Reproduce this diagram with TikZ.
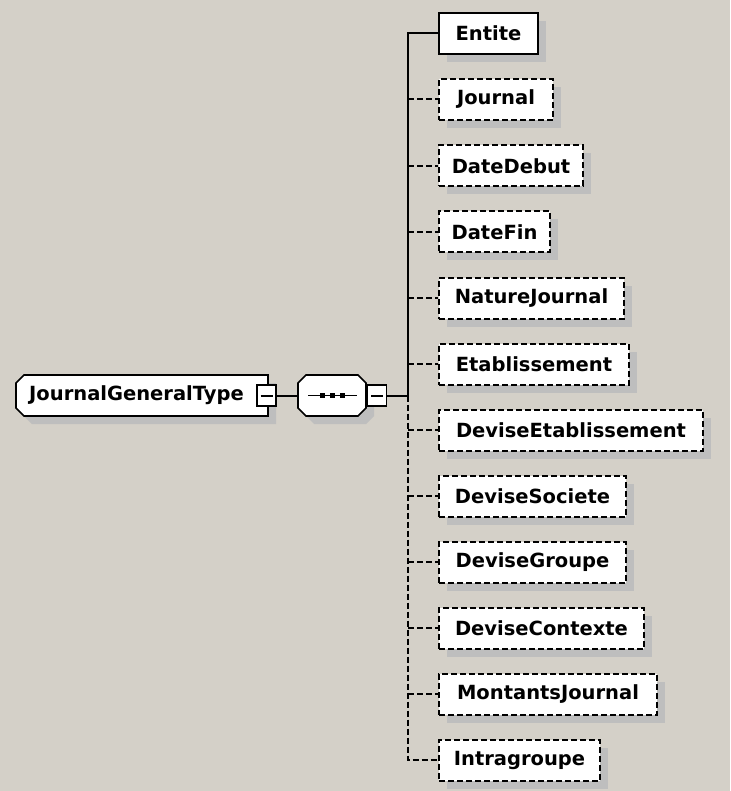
\documentclass[tikz,border=0pt]{standalone}
\usepackage{fontspec}
\setmainfont{DejaVu Sans}
\usetikzlibrary{positioning, shadows}
\definecolor{panel}{RGB}{212,208,200}
\definecolor{shadowgray}{RGB}{190,190,190}

\begin{document}
\begin{tikzpicture}[
  x=1pt, y=-1pt,
  shadowed/.style = {drop shadow={shadow xshift=8pt, shadow yshift=-8pt, fill=shadowgray, opacity=1}},
  elem/.style     = {rectangle, draw=black, line width=2pt, fill=white, anchor=west,
                     minimum height=41pt, inner sep=0pt, shadowed,
                     font=\bfseries\fontsize{19.5}{22}\selectfont},
  optelem/.style  = {elem, dash pattern=on 6pt off 3pt},
  outline/.style  = {draw=black, line width=1.6pt, fill=white},
  hidden/.style   = {rectangle, inner sep=0pt, minimum height=41pt},
  minus/.style    = {rectangle, draw=black, line width=1.6pt, fill=white,
                     minimum width=19pt, minimum height=21pt, inner sep=0pt,
                     path picture={\draw[line width=2pt]
                       ([xshift=3.5pt]path picture bounding box.west) --
                       ([xshift=-3.5pt]path picture bounding box.east);}},
  link/.style     = {line width=2pt, black},
  optlink/.style  = {link, dash pattern=on 6pt off 3pt}
]

\fill[panel] (0,0) rectangle (730,791);

% complex type box, cut on the left side
\fill[shadowgray] (32,383) -- (276,383) -- (276,424) -- (32,424) -- (24,416) -- (24,391) -- cycle;
\draw[outline] (24,375) -- (268,375) -- (268,416) -- (24,416) -- (16,408) -- (16,383) -- cycle;
% sequence compositor
\fill[shadowgray] (314,383) -- (366,383) -- (374,391) -- (374,416) -- (366,424) -- (314,424) -- (306,416) -- (306,391) -- cycle;
\draw[outline] (306,375) -- (358,375) -- (366,383) -- (366,408) -- (358,416) -- (306,416) -- (298,408) -- (298,383) -- cycle;

\node[hidden, minimum width=241pt, font=\bfseries\fontsize{19.5}{22}\selectfont]
               (jgt)      at (136.5,395.5) {JournalGeneralType};
\node[minus]   (jgtminus) at (266.5,395.5) {};
\node[hidden, minimum width=68pt] (seq) at (332,395.5) {};
\node[minus]   (seqminus) at (377,395.5) {};
\coordinate    (junc)     at (408,395.5);

\draw[line width=1.6pt] ([xshift=-24pt]seq.center) -- ([xshift=25pt]seq.center);
\foreach \dx in {-10,0,10}
  \fill ([xshift=\dx pt]seq.center) +(-2.5,-2.5) rectangle +(2.5,2.5);

\node[elem,    minimum width=99pt]  (entite)      at (438,33.5)  {Entite};
\node[optelem, minimum width=114pt] (journal)     at (438,99.5)  {Journal};
\node[optelem, minimum width=144pt] (datedebut)   at (438,166)   {DateDebut};
\node[optelem, minimum width=111pt] (datefin)     at (438,232)   {DateFin};
\node[optelem, minimum width=185pt] (nature)      at (438,298)   {NatureJournal};
\node[optelem, minimum width=190pt] (etab)        at (438,364)   {Etablissement};
\node[optelem, minimum width=264pt] (deviseetab)  at (438,430)   {DeviseEtablissement};
\node[optelem, minimum width=187pt] (devisesoc)   at (438,496)   {DeviseSociete};
\node[optelem, minimum width=187pt] (devisegrp)   at (438,562)   {DeviseGroupe};
\node[optelem, minimum width=205pt] (devisectx)   at (438,628)   {DeviseContexte};
\node[optelem, minimum width=218pt] (montants)    at (438,694)   {MontantsJournal};
\node[optelem, minimum width=161pt] (intragroupe) at (438,760)   {Intragroupe};

\draw[link] (jgtminus) -- (seq);
\draw[link] (seqminus) -- (junc);
\draw[link] (junc) |- (entite.west);
\draw[optlink] (junc) |- (intragroupe.west);
\draw[optlink] (junc |- journal.west)    -- (journal.west);
\draw[optlink] (junc |- datedebut.west)  -- (datedebut.west);
\draw[optlink] (junc |- datefin.west)    -- (datefin.west);
\draw[optlink] (junc |- nature.west)     -- (nature.west);
\draw[optlink] (junc |- etab.west)       -- (etab.west);
\draw[optlink] (junc |- deviseetab.west) -- (deviseetab.west);
\draw[optlink] (junc |- devisesoc.west)  -- (devisesoc.west);
\draw[optlink] (junc |- devisegrp.west)  -- (devisegrp.west);
\draw[optlink] (junc |- devisectx.west)  -- (devisectx.west);
\draw[optlink] (junc |- montants.west)   -- (montants.west);
\end{tikzpicture}
\end{document}
